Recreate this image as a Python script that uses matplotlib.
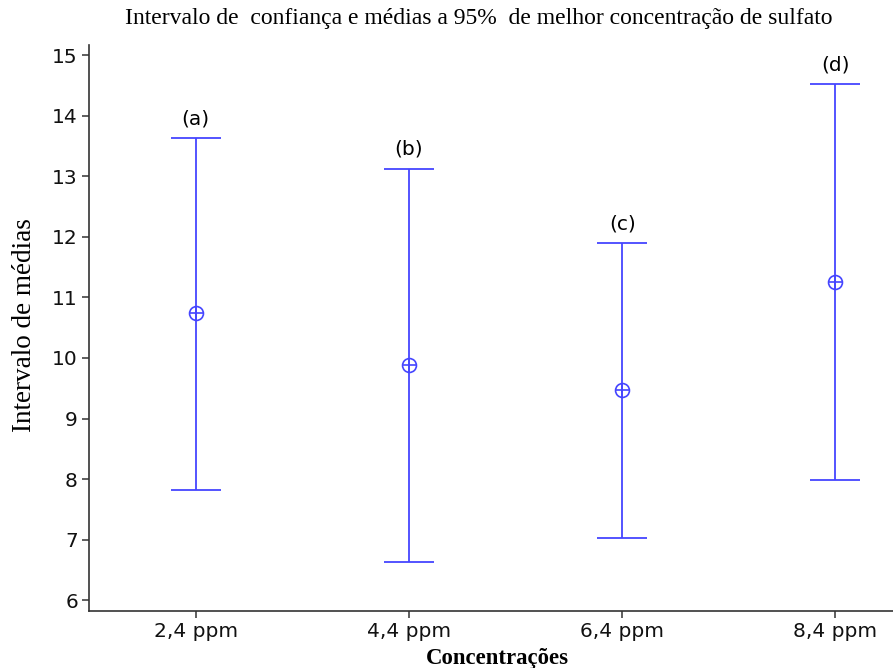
import matplotlib
matplotlib.use("Agg")
import matplotlib.pyplot as plt
import numpy as np

categories = ["2,4 ppm", "4,4 ppm", "6,4 ppm", "8,4 ppm"]
group_labels = ["(a)", "(b)", "(c)", "(d)"]
means = [10.74, 9.88, 9.47, 11.25]
upper = [13.63, 13.13, 11.90, 14.52]
lower = [7.82, 6.63, 7.02, 7.98]

blue = "#4545FF"

fig = plt.figure(figsize=(8.93, 6.68), dpi=100)
ax = fig.add_axes([0.0997, 0.0853, 0.9003, 0.8473])

x = np.arange(len(categories))
m = np.array(means)
err = np.vstack([m - np.array(lower), np.array(upper) - m])

ax.errorbar(x, m, yerr=err, fmt="none", ecolor=blue, elinewidth=1.3,
            capsize=18, capthick=1.3)
ax.plot(x, m, linestyle="none", marker="o", markersize=10,
        markerfacecolor="none", markeredgecolor=blue, markeredgewidth=1.2)
ax.plot(x, m, linestyle="none", marker="+", markersize=10,
        markeredgecolor=blue, markeredgewidth=1.2)

for xi, top, lab in zip(x, upper, group_labels):
    ax.annotate(lab, (xi, top), xytext=(0, 7), textcoords="offset points",
                ha="center", va="bottom", fontsize=14.5, family="DejaVu Sans")

ax.set_xlim(-0.5, 3.27)
ax.set_ylim(5.82, 15.17)
ax.set_yticks(range(6, 16))
ax.set_xticks(x)
ax.set_xticklabels(categories)

for side in ("top", "right"):
    ax.spines[side].set_visible(False)
for side in ("left", "bottom"):
    ax.spines[side].set_color("#333333")
    ax.spines[side].set_linewidth(1.2)

ax.tick_params(axis="both", direction="out", length=5, width=1.1,
               color="#333333", labelsize=14.5, pad=3, labelcolor="#111111")
for t in ax.get_xticklabels() + ax.get_yticklabels():
    t.set_family("DejaVu Sans")

fig.text(0.536, 0.972, "Intervalo de  confiança e médias a 95%  de melhor concentração de sulfato",
         ha="center", va="center", fontsize=17, family="Liberation Serif")
fig.text(0.027, 0.513, "Intervalo de médias", rotation=90, ha="center", va="center",
         fontsize=19.5, family="Liberation Serif")
fig.text(0.5566, 0.014, "Concentrações", ha="center", va="center",
         fontsize=16.4, fontweight="bold", family="Liberation Serif")

fig.savefig("out.png", dpi=100)
